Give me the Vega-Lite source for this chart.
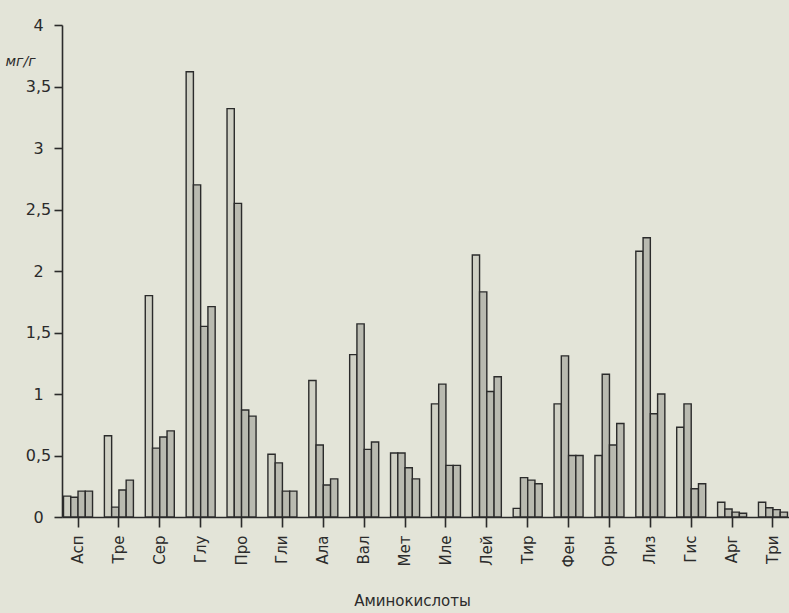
{
  "$schema": "https://vega.github.io/schema/vega-lite/v6.json",
  "width": 727,
  "height": 492,
  "autosize": {"type": "none"},
  "padding": {"left": 62, "top": 25, "right": 0, "bottom": 96},
  "background": "#e3e4d8",
  "config": {
    "view": {"stroke": null},
    "font": "DejaVu Sans",
    "axis": {"labelColor": "#2b2b2b", "titleColor": "#2b2b2b", "domainColor": "#2b2b2b", "tickColor": "#2b2b2b", "grid": false, "domainWidth": 1.6, "tickWidth": 1.6}
  },
  "data": {
    "values": [
      {"aa": "Асп", "s": "1", "v": 0.17}, {"aa": "Асп", "s": "2", "v": 0.16}, {"aa": "Асп", "s": "3", "v": 0.21}, {"aa": "Асп", "s": "4", "v": 0.21},
      {"aa": "Тре", "s": "1", "v": 0.66}, {"aa": "Тре", "s": "2", "v": 0.08}, {"aa": "Тре", "s": "3", "v": 0.22}, {"aa": "Тре", "s": "4", "v": 0.30},
      {"aa": "Сер", "s": "1", "v": 1.80}, {"aa": "Сер", "s": "2", "v": 0.56}, {"aa": "Сер", "s": "3", "v": 0.65}, {"aa": "Сер", "s": "4", "v": 0.70},
      {"aa": "Глу", "s": "1", "v": 3.62}, {"aa": "Глу", "s": "2", "v": 2.70}, {"aa": "Глу", "s": "3", "v": 1.55}, {"aa": "Глу", "s": "4", "v": 1.71},
      {"aa": "Про", "s": "1", "v": 3.32}, {"aa": "Про", "s": "2", "v": 2.55}, {"aa": "Про", "s": "3", "v": 0.87}, {"aa": "Про", "s": "4", "v": 0.82},
      {"aa": "Гли", "s": "1", "v": 0.51}, {"aa": "Гли", "s": "2", "v": 0.44}, {"aa": "Гли", "s": "3", "v": 0.21}, {"aa": "Гли", "s": "4", "v": 0.21},
      {"aa": "Ала", "s": "1", "v": 1.11}, {"aa": "Ала", "s": "2", "v": 0.585}, {"aa": "Ала", "s": "3", "v": 0.26}, {"aa": "Ала", "s": "4", "v": 0.31},
      {"aa": "Вал", "s": "1", "v": 1.32}, {"aa": "Вал", "s": "2", "v": 1.57}, {"aa": "Вал", "s": "3", "v": 0.55}, {"aa": "Вал", "s": "4", "v": 0.61},
      {"aa": "Мет", "s": "1", "v": 0.52}, {"aa": "Мет", "s": "2", "v": 0.52}, {"aa": "Мет", "s": "3", "v": 0.40}, {"aa": "Мет", "s": "4", "v": 0.31},
      {"aa": "Иле", "s": "1", "v": 0.92}, {"aa": "Иле", "s": "2", "v": 1.08}, {"aa": "Иле", "s": "3", "v": 0.42}, {"aa": "Иле", "s": "4", "v": 0.42},
      {"aa": "Лей", "s": "1", "v": 2.13}, {"aa": "Лей", "s": "2", "v": 1.83}, {"aa": "Лей", "s": "3", "v": 1.02}, {"aa": "Лей", "s": "4", "v": 1.14},
      {"aa": "Тир", "s": "1", "v": 0.07}, {"aa": "Тир", "s": "2", "v": 0.32}, {"aa": "Тир", "s": "3", "v": 0.30}, {"aa": "Тир", "s": "4", "v": 0.27},
      {"aa": "Фен", "s": "1", "v": 0.92}, {"aa": "Фен", "s": "2", "v": 1.31}, {"aa": "Фен", "s": "3", "v": 0.50}, {"aa": "Фен", "s": "4", "v": 0.50},
      {"aa": "Орн", "s": "1", "v": 0.50}, {"aa": "Орн", "s": "2", "v": 1.16}, {"aa": "Орн", "s": "3", "v": 0.585}, {"aa": "Орн", "s": "4", "v": 0.76},
      {"aa": "Лиз", "s": "1", "v": 2.16}, {"aa": "Лиз", "s": "2", "v": 2.27}, {"aa": "Лиз", "s": "3", "v": 0.84}, {"aa": "Лиз", "s": "4", "v": 1.00},
      {"aa": "Гис", "s": "1", "v": 0.73}, {"aa": "Гис", "s": "2", "v": 0.92}, {"aa": "Гис", "s": "3", "v": 0.23}, {"aa": "Гис", "s": "4", "v": 0.27},
      {"aa": "Арг", "s": "1", "v": 0.12}, {"aa": "Арг", "s": "2", "v": 0.065}, {"aa": "Арг", "s": "3", "v": 0.04}, {"aa": "Арг", "s": "4", "v": 0.03},
      {"aa": "Три", "s": "1", "v": 0.12}, {"aa": "Три", "s": "2", "v": 0.075}, {"aa": "Три", "s": "3", "v": 0.06}, {"aa": "Три", "s": "4", "v": 0.04}
    ]
  },
  "mark": {"type": "bar", "stroke": "#2b2b2b", "strokeWidth": 1.4},
  "encoding": {
    "x": {
      "field": "aa", "type": "nominal", "sort": null,
      "scale": {"paddingInner": 0.29, "paddingOuter": 0.037},
      "axis": {
        "title": "Аминокислоты", "titleFontSize": 15, "titleFontWeight": "normal",
        "titleY": 83, "titleBaseline": "middle", "titleX": 350,
        "labelAngle": -90, "labelAlign": "right", "labelBaseline": "middle",
        "labelFontSize": 15, "labelPadding": 8, "tickSize": 10
      }
    },
    "xOffset": {"field": "s", "type": "nominal", "scale": {"paddingInner": 0, "paddingOuter": 0}},
    "y": {
      "field": "v", "type": "quantitative",
      "scale": {"domain": [0, 4], "nice": false},
      "axis": {
        "values": [0, 0.5, 1, 1.5, 2, 2.5, 3, 3.5, 4],
        "labelExpr": "replace(toString(datum.value), '.', ',')",
        "labelFontSize": 16, "labelAlign": "center", "labelPadding": 16,
        "tickSize": 8,
        "title": "мг/г", "titleAngle": 0, "titleFontSize": 14, "titleFontStyle": "italic", "titleFontWeight": "normal",
        "titleX": -42, "titleY": 36, "titleAlign": "center", "titleBaseline": "middle"
      }
    },
    "fill": {"field": "s", "type": "nominal", "legend": null, "scale": {"range": ["#cfd0c4", "#b9bab0", "#b9bab0", "#b9bab0"]}}
  }
}
